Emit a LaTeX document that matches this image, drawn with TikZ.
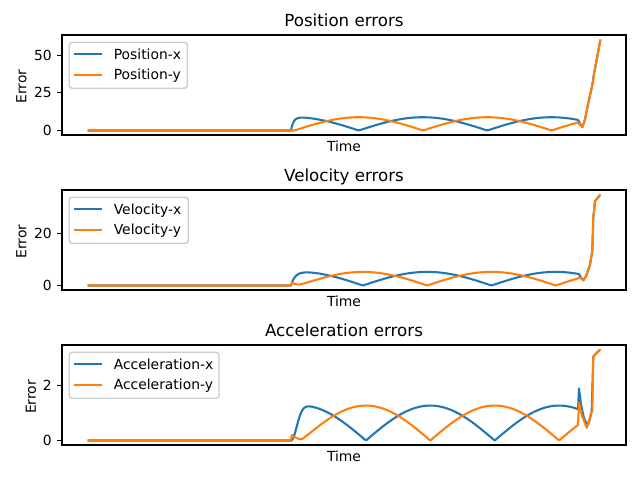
\documentclass[tikz,border=0pt]{standalone}
\usepackage{fontspec}
\setmainfont{DejaVu Sans}
\definecolor{tabblue}{RGB}{31,119,180}
\definecolor{taborange}{RGB}{255,127,14}
\definecolor{legendedge}{gray}{0.8}
\begin{document}
\begin{tikzpicture}[x=0.72pt, y=0.72pt, font=\fontsize{10}{12}\selectfont,
    frame/.style={line width=0.8pt},
    tickmark/.style={line width=0.8pt},
    ticklabel/.style={anchor=east, inner sep=0pt, xshift=-3.5pt},
    ttl/.style={anchor=base, inner sep=0pt, font=\fontsize{12}{14}\selectfont},
    axlabel/.style={inner sep=0pt},
    legbox/.style={draw=legendedge, line width=1pt, fill=white, fill opacity=0.8, rounded corners=2pt},
    legtext/.style={anchor=base west, inner sep=0pt, yshift=-3.6pt},
    curvex/.style={tabblue, line width=1.5pt, line join=round},
    curvey/.style={taborange, line width=1.5pt, line join=round}]
    \useasboundingbox (0,0) rectangle (640,480);

    % ---------------- Position errors ----------------
    \begin{scope}[shift={(0,349.5)}, yscale=1.5076]
        \draw[curvex] (87.6,0) -- (291,0)
            -- plot[domain=291:310, samples=40] (\x,{8.8*abs(cos(1.40078*(\x-294.5)))*(1-exp(-(\x-291)/2.5))})
            -- plot[domain=310:578, samples=200] (\x,{8.8*abs(cos(1.40078*(\x-294.5)))})
            -- (580,4.5) -- (582.3,2.2) -- (585,7.3) -- (588.3,18.4) -- (591.7,28.3)
            -- (593.3,33.8) -- (593.6,36) -- (600.4,60.3);
        \draw[curvey] (87.6,0) -- (294.5,0)
            -- plot[domain=294.5:578, samples=220] (\x,{8.8*abs(sin(1.40078*(\x-294.5)))})
            -- (582.3,2.2) -- (585,7.3) -- (588.3,18.4) -- (591.7,28.3)
            -- (593.3,33.8) -- (593.6,36) -- (600.4,60.3);
        \foreach \v in {0,25,50}
            \draw[tickmark] (62,\v) -- ++(-3.5pt,0) node[ticklabel] {\v};
    \end{scope}
    \draw[frame] (62,345) rectangle (626,445);
    \node[ttl] (ttlpos) at (344,453.3) {Position errors};
    \node[axlabel, anchor=base] (timepos) at (344,328.5) {Time};
    \node[axlabel, rotate=90] (errpos) at (21.5,393.5) {Error};

    % Legenda
    \draw[legbox] (69.3,391.7) rectangle (187.3,437.7);
    \draw[curvex] (74,425.7) -- (102,425.7);
    \draw[curvey] (74,405.3) -- (102,405.3);
    \node[legtext] (legposx) at (113.5,425.7) {Position-x};
    \node[legtext] (legposy) at (113.5,405.3) {Position-y};

    % ---------------- Velocity errors ----------------
    \begin{scope}[shift={(0,194.5)}, yscale=2.617]
        \draw[curvex] (87.6,0) -- (291,0)
            -- plot[domain=291:320, samples=40] (\x,{5.2*abs(cos(1.40078*(\x-298.7)))*(1-exp(-(\x-291)/4))})
            -- plot[domain=320:579, samples=200] (\x,{5.2*abs(cos(1.40078*(\x-298.7)))})
            -- (581,3.0) -- (583.3,2.0) -- (586,3.5) -- (590,8.0) -- (592.3,13.1)
            -- (593.3,25.9) -- (595,32.2) -- (600.4,34.74);
        \draw[curvey] (87.6,0) -- (291,0) -- (291.8,1.0)
            -- plot[domain=291.8:298.7, samples=10] (\x,{exp(-(\x-291.8)/6)})
            -- plot[domain=298.7:340, samples=40] (\x,{5.2*abs(sin(1.40078*(\x-298.7)))+exp(-(\x-291.8)/6)})
            -- plot[domain=340:578, samples=180] (\x,{5.2*abs(sin(1.40078*(\x-298.7)))})
            -- (579.3,3.2) -- (583.3,2.0) -- (586,3.5) -- (590,8.0) -- (592.3,13.1)
            -- (593.3,25.9) -- (595,32.2) -- (600.4,34.74);
        \foreach \v in {0,20}
            \draw[tickmark] (62,\v) -- ++(-3.5pt,0) node[ticklabel] {\v};
    \end{scope}
    \draw[frame] (62,190) rectangle (626,290);
    \node[ttl] (ttlvel) at (344,298.3) {Velocity errors};
    \node[axlabel, anchor=base] (timevel) at (344,173.5) {Time};
    \node[axlabel, rotate=90] (errvel) at (21.5,238.5) {Error};

    % Legenda
    \draw[legbox] (69.3,236.7) rectangle (188.3,282.7);
    \draw[curvex] (74,270.7) -- (102,270.7);
    \draw[curvey] (74,250.3) -- (102,250.3);
    \node[legtext] (legvelx) at (113.5,270.7) {Velocity-x};
    \node[legtext] (legvely) at (113.5,250.3) {Velocity-y};

    % ---------------- Acceleration errors ----------------
    \begin{scope}[shift={(0,39.5)}, yscale=27.5]
        \draw[curvex] (87.6,0) -- (291,0)
            -- plot[domain=291:315, samples=40] (\x,{1.27*abs(cos(1.39752*(\x-301.5)))*(1-exp(-((\x-291)/8)*((\x-291)/8)))})
            -- plot[domain=315:578, samples=200] (\x,{1.27*abs(cos(1.39752*(\x-301.5)))})
            -- (579,1.89) -- (581,1.3) -- (584,0.8) -- (587.7,0.55) -- (590,0.8)
            -- (591.7,1.07) -- (593.3,3.05) -- (596.7,3.19) -- (600.4,3.306);
        \draw[curvey] (87.6,0) -- (291,0) -- (291.8,0.2)
            -- plot[domain=291.8:301.5, samples=10] (\x,{0.2*exp(-(\x-291.8)/6)})
            -- plot[domain=301.5:340, samples=40] (\x,{1.27*abs(sin(1.39752*(\x-301.5)))+0.2*exp(-(\x-291.8)/6)})
            -- plot[domain=340:578, samples=180] (\x,{1.27*abs(sin(1.39752*(\x-301.5)))})
            -- (579,1.37) -- (582,0.9) -- (586.7,0.46) -- (589,0.7) -- (591,1.0)
            -- (592.3,1.07) -- (593.3,3.05) -- (596.7,3.19) -- (600.4,3.306);
        \foreach \v in {0,2}
            \draw[tickmark] (62,\v) -- ++(-3.5pt,0) node[ticklabel] {\v};
    \end{scope}
    \draw[frame] (62,35) rectangle (626,135);
    \node[ttl] (ttlacc) at (344,143.3) {Acceleration errors};
    \node[axlabel, anchor=base] (timeacc) at (344,18.5) {Time};
    \node[axlabel, rotate=90] (erracc) at (31,83) {Error};

    % Legenda
    \draw[legbox] (69.3,81.7) rectangle (219,127.7);
    \draw[curvex] (74,115.7) -- (102,115.7);
    \draw[curvey] (74,95.3) -- (102,95.3);
    \node[legtext] (legaccx) at (113.5,115.7) {Acceleration-x};
    \node[legtext] (legaccy) at (113.5,95.3) {Acceleration-y};
\end{tikzpicture}
\end{document}
